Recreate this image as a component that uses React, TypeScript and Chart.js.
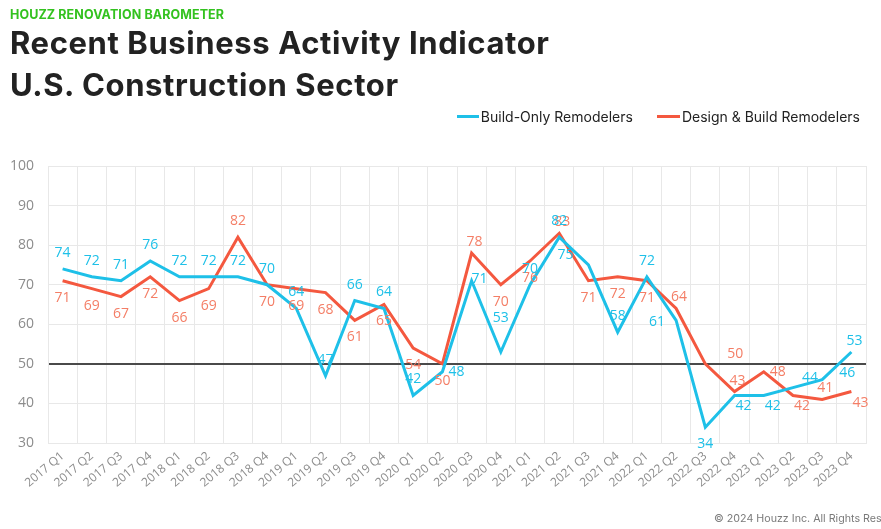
import { useEffect, useRef } from "react";
import { Chart, registerables } from "chart.js";
Chart.register(...registerables);

const quarters = [
  "2017 Q1", "2017 Q2", "2017 Q3", "2017 Q4",
  "2018 Q1", "2018 Q2", "2018 Q3", "2018 Q4",
  "2019 Q1", "2019 Q2", "2019 Q3", "2019 Q4",
  "2020 Q1", "2020 Q2", "2020 Q3", "2020 Q4",
  "2021 Q1", "2021 Q2", "2021 Q3", "2021 Q4",
  "2022 Q1", "2022 Q2", "2022 Q3", "2022 Q4",
  "2023 Q1", "2023 Q2", "2023 Q3", "2023 Q4",
];

const buildOnly = [74, 72, 71, 76, 72, 72, 72, 70, 64, 47, 66, 64, 42, 48, 71, 53, 70, 82, 75, 58, 72, 61, 34, 42, 42, 44, 46, 53];
const designBuild = [71, 69, 67, 72, 66, 69, 82, 70, 69, 68, 61, 65, 54, 50, 78, 70, 76, 83, 71, 72, 71, 64, 50, 43, 48, 42, 41, 43];

// label placement codes (layout only)
const buildOnlyLabelPos = ["a", "a", "a", "a", "a", "a", "a", "a", "a", "a", "a", "a", "a", "r", "rs", "aa", "a", "a", "al", "a", "a", "l", "b", "br", "br", "ar", "rr", "as"];
const designBuildLabelPos = ["b", "b", "b", "b", "b", "b", "a", "b", "b", "b", "b", "b", "b", "b", "as", "b", "b", "as", "b", "b", "b", "as", "arr", "as", "r", "br", "as", "br"];

const yMin = 30;
const yMax = 100;
const yStep = 10;
const threshold = 50;

const CYAN = "#1ec0e8";
const RED = "#f4583f";
const RED_LABEL = "#f47e66";
const CYAN_LABEL = "#1ec0e8";

const OFFSETS: Record<string, [number, number]> = {
  a: [0, -16],
  aa: [0, -34],
  as: [3, -11],
  b: [0, 17],
  l: [-19, 2],
  al: [-23, -10],
  r: [14, 0],
  rs: [8, -2],
  rr: [25, -7],
  ar: [17, -10],
  arr: [30, -10],
  br: [9, 11],
};

const labelPlugin = {
  id: "pointLabels",
  afterDatasetsDraw(chart: any) {
    const ctx = chart.ctx;
    ctx.save();
    ctx.font = '14px "Open Sans"';
    ctx.textAlign = "center";
    ctx.textBaseline = "middle";
    const cfg = [
      { idx: 1, pos: designBuildLabelPos, color: RED_LABEL },
      { idx: 0, pos: buildOnlyLabelPos, color: CYAN_LABEL },
    ];
    for (const c of cfg) {
      const meta = chart.getDatasetMeta(c.idx);
      const data = chart.data.datasets[c.idx].data;
      meta.data.forEach((pt: any, i: number) => {
        const off = OFFSETS[c.pos[i]] || [0, -16];
        ctx.fillStyle = c.color;
        ctx.fillText(String(data[i]), pt.x + off[0], pt.y + off[1]);
      });
    }
    ctx.restore();
  },
};

export default function App() {
  const ref = useRef<HTMLCanvasElement | null>(null);

  useEffect(() => {
    if (!ref.current) return;
    const chart = new Chart(ref.current, {
      type: "line",
      data: {
        labels: quarters,
        datasets: [
          {
            label: "Build-Only Remodelers",
            data: buildOnly,
            borderColor: CYAN,
            backgroundColor: CYAN,
            borderWidth: 3,
            pointRadius: 0,
            tension: 0,
          },
          {
            label: "Design & Build Remodelers",
            data: designBuild,
            borderColor: RED,
            backgroundColor: RED,
            borderWidth: 3,
            pointRadius: 0,
            tension: 0,
          },
        ],
      },
      options: {
        animation: false,
        responsive: false,
        devicePixelRatio: 1,
        layout: { padding: { top: 166, right: 15, left: 0, bottom: 0 } },
        plugins: {
          legend: { display: false },
          title: { display: false },
          tooltip: { enabled: false },
        },
        scales: {
          x: {
            offset: true,
            grid: { offset: true, color: "#e8e8e8", drawTicks: false },
            border: { color: "#e8e8e8" },
            ticks: {
              autoSkip: false,
              minRotation: 40,
              maxRotation: 40,
              padding: 6,
              color: "#8c8c8c",
              font: { family: "Open Sans", size: 12 },
            },
            afterFit: (s: any) => {
              s.height = 86;
            },
          },
          y: {
            min: yMin,
            max: yMax,
            grid: {
              drawTicks: false,
              color: (c: any) => (c.tick && c.tick.value === threshold ? "#4a4a4a" : "#e8e8e8"),
              lineWidth: (c: any) => (c.tick && c.tick.value === threshold ? 2 : 1),
            },
            border: { color: "#e8e8e8" },
            ticks: {
              stepSize: yStep,
              padding: 14,
              color: "#8c8c8c",
              font: { family: "Open Sans", size: 14 },
            },
            afterFit: (s: any) => {
              s.width = 48;
            },
          },
        },
      },
      plugins: [labelPlugin],
    });
    return () => chart.destroy();
  }, []);

  return (
    <div
      style={{
        position: "absolute",
        left: 0,
        top: 0,
        width: 881,
        height: 529,
        overflow: "hidden",
        background: "#fff",
        fontFamily: "Inter, sans-serif",
      }}
    >
      <canvas ref={ref} width={881} height={529} style={{ position: "absolute", left: 0, top: 0, width: 881, height: 529 }} />
      <div
        style={{
          position: "absolute",
          left: 10,
          top: 7,
          fontSize: 12.5,
          lineHeight: "16px",
          fontWeight: 700,
          letterSpacing: 0.1,
          color: "#33c21f",
          whiteSpace: "nowrap",
        }}
      >
        HOUZZ RENOVATION BAROMETER
      </div>
      <div
        style={{
          position: "absolute",
          left: 10,
          top: 22,
          fontSize: 31,
          lineHeight: "42px",
          fontWeight: 700,
          letterSpacing: 0.6,
          color: "#222",
          whiteSpace: "nowrap",
        }}
      >
        <div>Recent Business Activity Indicator</div>
        <div>U.S. Construction Sector</div>
      </div>
      <div
        style={{
          position: "absolute",
          right: 21,
          top: 106,
          height: 20,
          display: "flex",
          alignItems: "center",
          fontSize: 14,
          color: "#222",
          whiteSpace: "nowrap",
        }}
      >
        <span style={{ display: "inline-block", width: 22, height: 3, background: CYAN, marginRight: 2 }} />
        <span>Build-Only Remodelers</span>
        <span style={{ display: "inline-block", width: 23, height: 3, background: RED, marginLeft: 24, marginRight: 2 }} />
        <span>Design &amp; Build Remodelers</span>
      </div>
      <div
        style={{
          position: "absolute",
          left: 714,
          top: 512,
          fontSize: 10.7,
          lineHeight: "14px",
          color: "#7a7a7a",
          whiteSpace: "nowrap",
        }}
      >
        © 2024 Houzz Inc. All Rights Reserved
      </div>
    </div>
  );
}
